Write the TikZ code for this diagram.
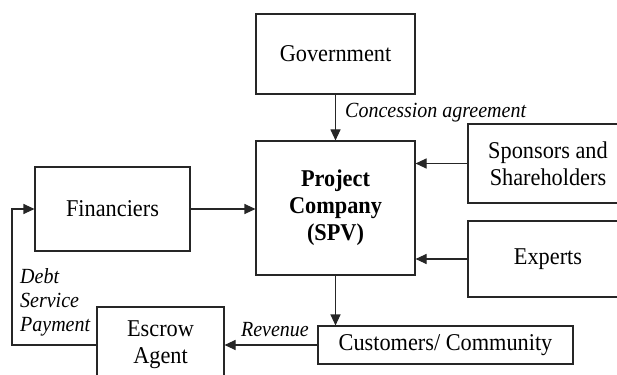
\documentclass[tikz,border=0pt]{standalone}
\usepackage{fontspec}
\usepackage{graphicx}
\setmainfont{Liberation Serif}
\usetikzlibrary{arrows.meta}
\newcommand{\vs}[1]{\scalebox{1}[1.08]{#1}}
\begin{document}
\begin{tikzpicture}[x=1pt,y=-1pt,
  box/.style={draw=black!85,line width=1.1pt,rectangle,inner sep=0pt,align=center,
    font=\fontsize{22.3}{26.8}\selectfont},
  lbl/.style={inner sep=0pt,font=\fontsize{20}{24}\selectfont\itshape},
  conn/.style={draw=black!85,line width=1.1pt,-{Triangle[length=11pt,width=10pt]}}]
\useasboundingbox (0,0) rectangle (617,374);
\node[box,minimum width=159pt,minimum height=80pt] (gov) at (335.5,54) {\vs{Government}};
\node[box,minimum width=159pt,minimum height=134pt] (pc) at (335.5,208) {\vs{\bfseries Project}\\\vs{\bfseries Company}\\\vs{\bfseries (SPV)}};
\node[box,minimum width=160pt,minimum height=79pt] (spons) at (548,163.5) {\vs{Sponsors and}\\\vs{Shareholders}};
\node[box,minimum width=160pt,minimum height=76pt] (exp) at (548,259) {\vs{Experts}};
\node[box,minimum width=155pt,minimum height=84pt] (fin) at (112.5,209) {\vs{Financiers}};
\node[box,minimum width=255pt,minimum height=38pt] (cust) at (445.5,345) {\vs{Customers/ Community}};
\node[box,minimum width=127pt,minimum height=76pt] (esc) at (160.5,345) {\vs{Escrow}\\\vs{Agent}};
\coordinate (turn) at (12,345);
\draw[conn] (gov.south) -- (pc.north);
\draw[conn] (spons.west) -- (spons.west -| pc.east);
\draw[conn] (exp.west) -- (exp.west -| pc.east);
\draw[conn] (fin.east) -- (fin.east -| pc.west);
\draw[conn] (pc.south) -- (pc.south |- cust.north);
\draw[conn] (cust.west) -- (cust.west -| esc.east);
\draw[conn] (esc.west) -- (turn) |- (fin.west);
\node[lbl,anchor=west] (conc) at (345,113) {\vs{Concession agreement}};
\node[lbl,anchor=east] (rev) at (309,330) {\vs{Revenue}};
\node[lbl,anchor=west,align=left] (debt) at (20,302) {\vs{Debt}\\\vs{Service}\\\vs{Payment}};
\end{tikzpicture}
\end{document}
